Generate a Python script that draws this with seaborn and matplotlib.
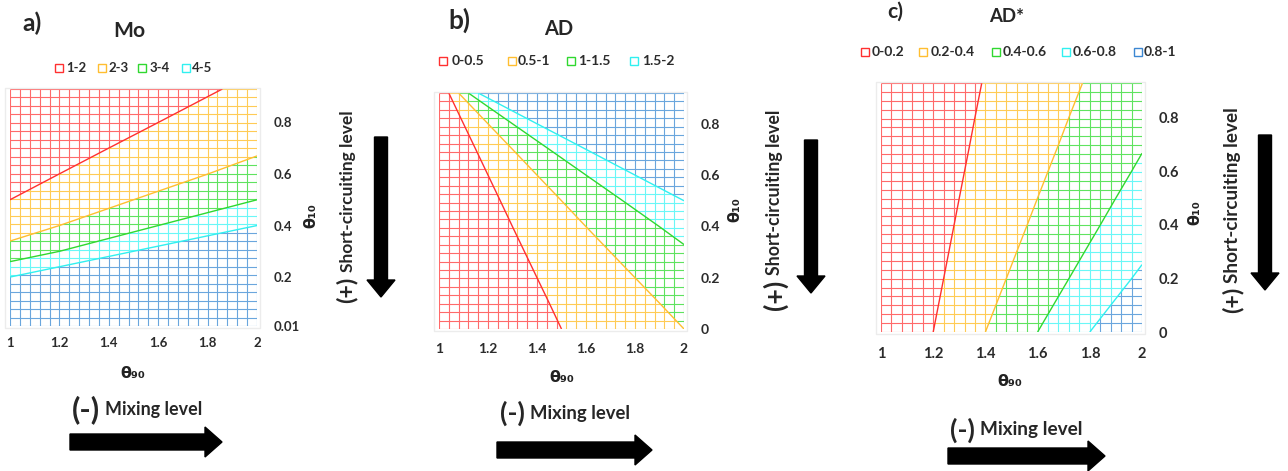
import numpy as np
import matplotlib
matplotlib.use("Agg")
import matplotlib.pyplot as plt
import seaborn as sns
from matplotlib.collections import LineCollection
from matplotlib.patches import PathPatch, Rectangle, FancyArrow

# ---------------------------------------------------------------- data
theta90_ticks = [1.0, 1.2, 1.4, 1.6, 1.8, 2.0]
theta90_tick_labels = ["1", "1.2", "1.4", "1.6", "1.8", "2"]

# Mo (rows: theta10, columns: theta90 = 1 and 2)
mo_theta90 = [1.0, 2.0]
mo_theta10 = [0.01, 0.1, 0.2, 0.3, 0.4, 0.5, 0.6, 0.7, 0.8, 0.93]
mo_values = [
    [100.0, 200.0],
    [10.0, 20.0],
    [5.0, 10.0],
    [3.33, 6.67],
    [2.5, 5.0],
    [2.0, 4.0],
    [1.67, 3.33],
    [1.43, 2.86],
    [1.25, 2.5],
    [1.08, 2.15],
]
mo_levels = [1, 2, 3, 4, 5, 200]
mo_labels = ["1-2", "2-3", "3-4", "4-5"]
mo_yticks = [0.01, 0.2, 0.4, 0.6, 0.8]
mo_ytick_labels = ["0.01", "0.2", "0.4", "0.6", "0.8"]

# AD
ad_theta90 = [1.0, 2.0]
ad_theta10 = [0.0, 0.1, 0.2, 0.3, 0.4, 0.5, 0.6, 0.7, 0.8, 0.92]
ad_values = [
    [0.0, 1.0],
    [0.0, 1.11],
    [0.0, 1.25],
    [0.0, 1.43],
    [0.0, 1.67],
    [0.0, 2.0],
    [0.0, 2.5],
    [0.0, 3.33],
    [0.0, 5.0],
    [0.0, 12.5],
]
ad_levels = [0, 0.5, 1, 1.5, 2, 12.5]
ad_labels = ["0-0.5", "0.5-1", "1-1.5", "1.5-2"]
ad_yticks = [0, 0.2, 0.4, 0.6, 0.8]
ad_ytick_labels = ["0", "0.2", "0.4", "0.6", "0.8"]

# AD*
ads_theta90 = [1.0, 2.0]
ads_theta10 = [0.0, 0.1, 0.2, 0.3, 0.4, 0.5, 0.6, 0.7, 0.8, 0.93]
ads_values = [
    [0.0, 1.0],
    [0.0, 0.909],
    [0.0, 0.833],
    [0.0, 0.769],
    [0.0, 0.714],
    [0.0, 0.667],
    [0.0, 0.625],
    [0.0, 0.588],
    [0.0, 0.556],
    [0.0, 0.518],
]
ads_levels = [0, 0.2, 0.4, 0.6, 0.8, 1.0]
ads_labels = ["0-0.2", "0.2-0.4", "0.4-0.6", "0.6-0.8", "0.8-1"]
ads_yticks = [0, 0.2, 0.4, 0.6, 0.8]
ads_ytick_labels = ["0", "0.2", "0.4", "0.6", "0.8"]

# ---------------------------------------------------------------- style
GRID_COLORS = ["#FF6A6A", "#FFCB55", "#5FE35F", "#6AF7F7", "#6AA6DD"]
LINE_COLORS = ["#FF3030", "#FFBE30", "#30D830", "#30F0F0", "#3C87D2"]
TICK_COLOR = "#2B2B2B"

sns.set_theme(style="white")
plt.rcParams["font.family"] = ["Lato", "DejaVu Sans"]

W, H = 1288, 471
fig = plt.figure(figsize=(W / 100, H / 100), dpi=100)
fig.patch.set_facecolor("white")
renderer = fig.canvas.get_renderer()

# overlay in pixel coordinates for annotations, legends and arrows
ov = fig.add_axes([0, 0, 1, 1], zorder=5)
ov.set_xlim(0, W)
ov.set_ylim(H, 0)
ov.axis("off")


def fitted_text(x, y, s, span, size=10, rotation=0, **kw):
    """Text centred at (x, y) scaled so that its long side covers `span` pixels."""
    t = ov.text(x, y, s, fontsize=size, rotation=rotation, ha="center",
                va="center", fontweight="bold", **kw)
    bb = t.get_window_extent(renderer=renderer)
    length = bb.height if rotation else bb.width
    t.set_fontsize(size * span / length)
    return t


def wire_contour(rect_px, x_cols, z_rows, z_values, levels, ylim, yticks,
                 ytick_labels, nrows, tick_size, xpad, ypad):
    x0, y0, x1, y1 = rect_px
    # faint plot-area frame
    ov.add_patch(Rectangle((x0 - 5, y0 - 1), x1 - x0 + 8, y1 - y0 + 3,
                           facecolor="none", edgecolor="#ECECEC", lw=1.0))
    ax = fig.add_axes([x0 / W, 1 - y1 / H, (x1 - x0) / W, (y1 - y0) / H])
    X, Y = np.meshgrid(x_cols, z_rows)
    Z = np.asarray(z_values, dtype=float)

    # filled bands (invisible) give the regions used to colour the wire grid
    cs = ax.contourf(X, Y, Z, levels=levels, colors="none")
    gx = np.linspace(1.0, 2.0, 26)
    gy = np.linspace(ylim[0], ylim[1], nrows)
    segs = [[(v, ylim[0]), (v, ylim[1])] for v in gx] + \
           [[(1.0, h), (2.0, h)] for h in gy]
    for i, path in enumerate(cs.get_paths()):
        if len(path.vertices) == 0:
            continue
        clip = PathPatch(path, transform=ax.transData, facecolor="none",
                         edgecolor="none")
        ax.add_patch(clip)
        lc = LineCollection(segs, colors=GRID_COLORS[i], linewidths=0.8)
        ax.add_collection(lc)
        lc.set_clip_path(clip)

    # band boundaries drawn in the colour of the band below
    inner = levels[1:-1]
    ax.contour(X, Y, Z, levels=inner, colors=LINE_COLORS[:len(inner)],
               linewidths=1.0)

    ax.set_xlim(1.0, 2.0)
    ax.set_ylim(*ylim)
    ax.set_xticks(theta90_ticks)
    ax.set_xticklabels(theta90_tick_labels)
    ax.yaxis.tick_right()
    ax.set_yticks(yticks)
    ax.set_yticklabels(ytick_labels)
    ax.tick_params(length=0, labelsize=tick_size, labelcolor=TICK_COLOR)
    ax.tick_params(axis="x", pad=xpad)
    ax.tick_params(axis="y", pad=ypad)
    for lab in ax.get_xticklabels() + ax.get_yticklabels():
        lab.set_fontweight("bold")
    sns.despine(ax=ax, left=True, bottom=True)
    ax.grid(False)
    return ax


def legend(y, sq_x, txt_x, labels, size):
    for i, (sx, tx, lab) in enumerate(zip(sq_x, txt_x, labels)):
        ov.add_patch(Rectangle((sx, y - 4.5), 8.5, 8.5, facecolor="white",
                               edgecolor=LINE_COLORS[i], lw=1.0))
        ov.text(tx, y, lab, fontsize=size, fontweight="bold", color=TICK_COLOR,
                ha="left", va="center")


def side_notes(theta10_xy, short_x, short_span, plus_xy, arrow_x, arrow_top,
               arrow_tip, theta90_xy, minus_span, mixing_span, text_y,
               harrow_x, harrow_y):
    ov.text(*theta10_xy, "θ₁₀", rotation=90, fontsize=11.5, fontweight="bold",
            family="DejaVu Sans", ha="center", va="center", color="#222222")
    fitted_text(short_x, sum(short_span) / 2, "Short-circuiting level",
                short_span[1] - short_span[0], rotation=90)
    fitted_text(plus_xy[0], plus_xy[1], "(+)", plus_xy[2], rotation=90)
    ov.add_patch(FancyArrow(arrow_x, arrow_top, 0, arrow_tip - arrow_top,
                            width=13, head_width=28, head_length=17,
                            length_includes_head=True, color="black"))
    ov.text(*theta90_xy, "θ₉₀", fontsize=11.5, fontweight="bold",
            family="DejaVu Sans", ha="center", va="center", color="#222222")
    fitted_text(sum(minus_span) / 2, text_y, "(-)", minus_span[1] - minus_span[0])
    fitted_text(sum(mixing_span) / 2, text_y, "Mixing level",
                mixing_span[1] - mixing_span[0])
    ov.add_patch(FancyArrow(harrow_x[0], harrow_y, harrow_x[1] - harrow_x[0], 0,
                            width=16, head_width=30, head_length=17,
                            length_includes_head=True, color="black"))


# ---------------------------------------------------------------- panel a
wire_contour((10, 89, 257, 326), mo_theta90, mo_theta10, mo_values, mo_levels,
             (0.01, 0.93), mo_yticks, mo_ytick_labels, 29, 9.5, 8, 12)
fitted_text(32, 23, "a)", 19)
fitted_text(129, 31, "Mo", 32)
legend(68, [55, 98, 138, 182], [66, 108, 150, 192], mo_labels, 9.5)
side_notes((311, 216), 348, (110, 272), (347, 290, 26), 381, 137, 297,
           (133, 374), (72, 100), (105, 202), 410, (70, 222), 442)

# ---------------------------------------------------------------- panel b
wire_contour((439, 93, 684, 329), ad_theta90, ad_theta10, ad_values, ad_levels,
             (0.0, 0.92), ad_yticks, ad_ytick_labels, 29, 10, 10, 12)
fitted_text(459, 20, "b)", 22)
fitted_text(559, 29, "AD", 29)
legend(61, [439, 508, 567, 630], [452, 518, 578, 642], ad_labels, 10)
side_notes((735, 210), 775, (110, 275), (775, 295, 30), 811, 140, 293,
           (562, 377), (500, 525), (530, 630), 413, (497, 652), 450)

# ---------------------------------------------------------------- panel c
wire_contour((881, 83, 1142, 332), ads_theta90, ads_theta10, ads_values,
             ads_levels, (0.0, 0.93), ads_yticks, ads_ytick_labels, 29, 10.5,
             11, 12)
fitted_text(895, 12, "c)", 16)
fitted_text(1007, 17, "AD*", 35)
legend(52, [861, 919, 992, 1062, 1134], [872, 931, 1003, 1073, 1144],
       ads_labels, 10)
side_notes((1195, 213), 1233, (107, 283), (1233, 300, 26), 1265, 135, 290,
           (1010, 382), (950, 975), (980, 1083), 430, (948, 1105), 456)

fig.savefig("out.png", dpi=100, facecolor="white")
